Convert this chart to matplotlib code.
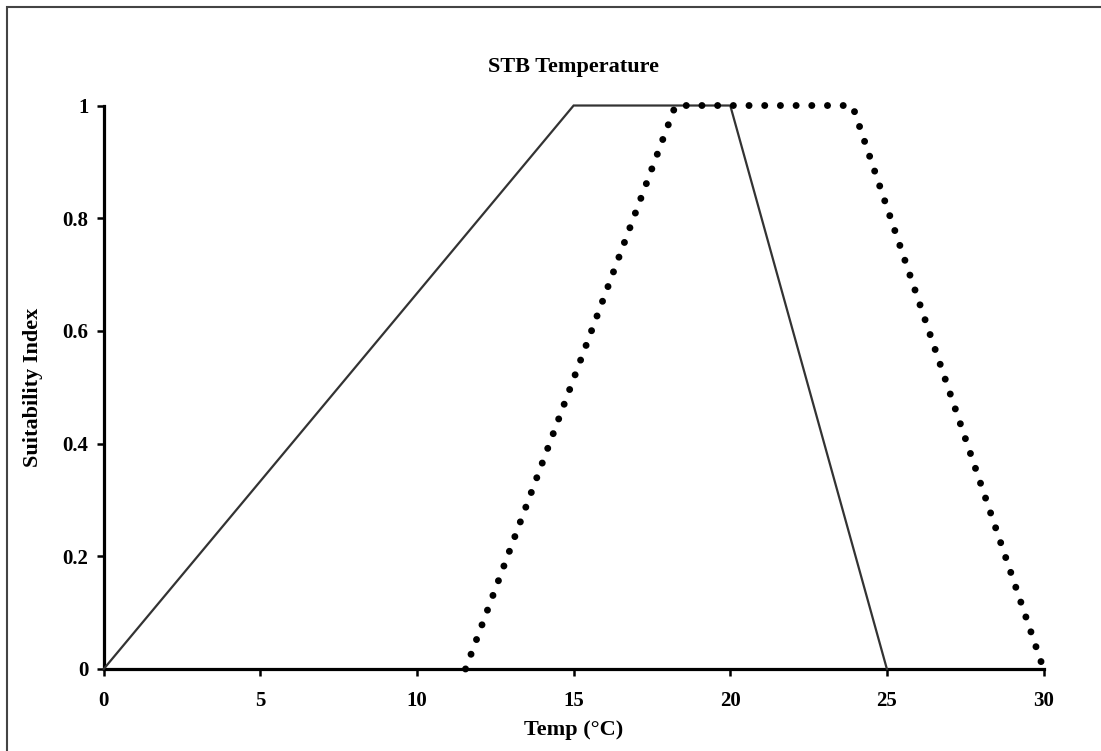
import matplotlib.pyplot as plt
from matplotlib.patches import Rectangle

# suitability curves for STB vs temperature
temp_solid = [0, 15, 20, 25]
si_solid = [0, 1, 1, 0]

temp_dotted = [11.55, 18.25, 23.9, 30]
si_dotted = [0, 1, 1, 0]

x_ticks = [0, 5, 10, 15, 20, 25, 30]
y_ticks = [0, 0.2, 0.4, 0.6, 0.8, 1]
y_ticklabels = ["0", "0.2", "0.4", "0.6", "0.8", "1"]

plt.rcParams["font.family"] = ["Liberation Serif", "DejaVu Serif"]
plt.rcParams["font.weight"] = "bold"

fig = plt.figure(figsize=(11.01, 7.51), dpi=100)
ax = fig.add_axes([0.0942, 0.1092, 0.8536, 0.7503])

ax.plot(temp_solid, si_solid, color="#333333", lw=1.6, clip_on=False,
        solid_joinstyle="miter", zorder=3)
ax.plot(temp_dotted, si_dotted, color="black", lw=5.0,
        linestyle=(0, (0.01, 2.25)), dash_capstyle="round",
        clip_on=False, zorder=4)

ax.set_xlim(0, 30)
ax.set_ylim(0, 1)
ax.set_xticks(x_ticks)
ax.set_yticks(y_ticks)
ax.set_yticklabels(y_ticklabels)

for side in ["top", "right"]:
    ax.spines[side].set_visible(False)
for side in ["left", "bottom"]:
    ax.spines[side].set_linewidth(2.3)
    ax.spines[side].set_color("black")

ax.tick_params(axis="both", direction="out", length=5, width=1.8,
               labelsize=15, colors="black")
ax.tick_params(axis="x", pad=11)
ax.tick_params(axis="y", pad=6)
for lbl in ax.get_xticklabels() + ax.get_yticklabels():
    lbl.set_fontweight("bold")

ax.set_xlabel("Temp (°C)", fontsize=16, fontweight="bold", va="center")
ax.xaxis.set_label_coords(0.5, -0.108)
ax.set_ylabel("Suitability Index", fontsize=16, fontweight="bold",
              va="center", ha="center")
ax.yaxis.set_label_coords(-0.0752, 0.5)

ax.set_title("STB Temperature", fontsize=16, fontweight="bold",
             y=1.068, va="center", pad=0)

# chart area frame (runs off the right and bottom edges)
fig.patches.append(Rectangle((7 / 1101, -0.2), 1.2, 1.2 - 7 / 751,
                             transform=fig.transFigure, fill=False,
                             edgecolor="#444444", lw=1.5))

fig.savefig("out.png", dpi=100)
